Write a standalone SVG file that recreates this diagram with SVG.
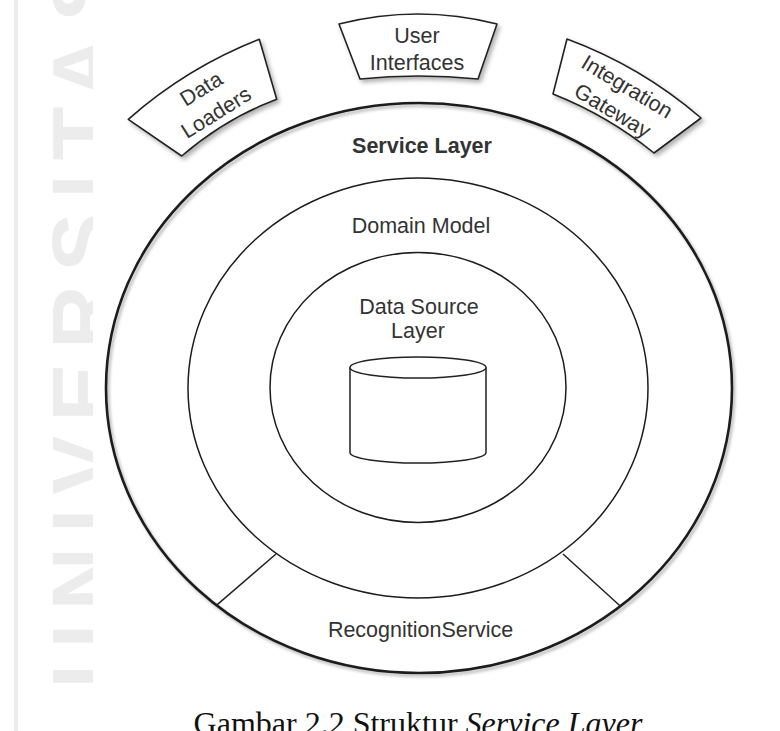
<svg xmlns="http://www.w3.org/2000/svg" width="780" height="731" viewBox="0 0 780 731">
<style>
.ring{fill:none;stroke:#1c1c1c}
.lbl{font-family:"Liberation Sans",Arial,sans-serif;font-size:21.5px;fill:#333;text-anchor:middle}
.box{fill:#fff;stroke:#222;stroke-width:1.6;stroke-linejoin:round}
.wm{font-family:"Liberation Sans",Arial,sans-serif;font-weight:bold;fill:#ececec}
</style>
<defs>
<filter id="sh" x="-10%" y="-10%" width="130%" height="130%">
<feDropShadow dx="2.5" dy="3" stdDeviation="2" flood-color="#000" flood-opacity="0.3"/>
</filter>
<filter id="sh2" x="-5%" y="-5%" width="112%" height="112%">
<feDropShadow dx="2" dy="2.5" stdDeviation="1.6" flood-color="#000" flood-opacity="0.3"/>
</filter>
</defs>
<rect width="780" height="731" fill="#fff"/>
<g id="watermark">
<line x1="16" y1="0" x2="16" y2="731" stroke="#ececec" stroke-width="4"/>
<text class="wm" font-size="88" letter-spacing="14" transform="translate(113,688) rotate(-90)">UNIVERSITAS</text>
</g>
<rect x="93" y="0" width="654" height="686" fill="#fff"/>

<g id="service-layer">
<ellipse class="ring" cx="419" cy="388" rx="313" ry="285" stroke-width="2.6" filter="url(#sh2)"/>
<text class="lbl" x="422" y="153" font-weight="bold" fill="#222">Service Layer</text>
</g>
<g id="domain-model">
<ellipse class="ring" cx="418" cy="388" rx="230" ry="210" stroke-width="1.5"/>
<text class="lbl" x="421" y="232.5">Domain Model</text>
</g>
<g id="data-source-layer">
<ellipse class="ring" cx="418" cy="387.5" rx="148" ry="135" stroke-width="1.5"/>
<text class="lbl" x="419" y="314">Data Source</text>
<text class="lbl" x="418" y="338">Layer</text>
</g>
<g id="database">
<path d="M350,367.5 L350,452.5 A68,10.5 0 0 0 486,452.5 L486,367.5" fill="#fff" stroke="#222" stroke-width="1.5"/>
<ellipse cx="418" cy="367.5" rx="68" ry="10.5" fill="#fff" stroke="#222" stroke-width="1.5"/>
</g>
<g id="recognition-service">
<path d="M276,554 L216.4,605.4 M563,554 L620.5,606.3" stroke="#222" stroke-width="1.5" fill="none"/>
<text class="lbl" x="420.5" y="637">RecognitionService</text>
</g>
<g id="data-loaders">
<path class="box" filter="url(#sh)" d="M128.3,119.3 Q187,67.6 259.3,39.3 L276.7,99.3 Q225.8,118.3 181.7,156 Z"/>
<g transform="translate(208.5,100.5) rotate(-32)">
<text class="lbl" x="0" y="-6.5">Data</text>
<text class="lbl" x="0" y="21.5">Loaders</text>
</g>
</g>
<g id="user-interfaces">
<path class="box" filter="url(#sh)" d="M339,24 Q418,4 497,24 L478,79 Q418,73 360,79 Z"/>
<text class="lbl" x="417" y="43">User</text>
<text class="lbl" x="417" y="70">Interfaces</text>
</g>
<g id="integration-gateway">
<path class="box" filter="url(#sh)" d="M567,39 Q641.1,66.4 701,118 L654,153 Q608,115.7 553,94 Z"/>
<g transform="translate(620,98.5) rotate(31)">
<text class="lbl" x="0" y="-6.5">Integration</text>
<text class="lbl" x="0" y="21.5">Gateway</text>
</g>
</g>
<g id="caption">
<text x="418" y="734" font-family="'Liberation Serif','Times New Roman',serif" font-size="32" fill="#111" text-anchor="middle">Gambar 2.2 Struktur <tspan font-style="italic">Service Layer</tspan></text>
</g>
</svg>
